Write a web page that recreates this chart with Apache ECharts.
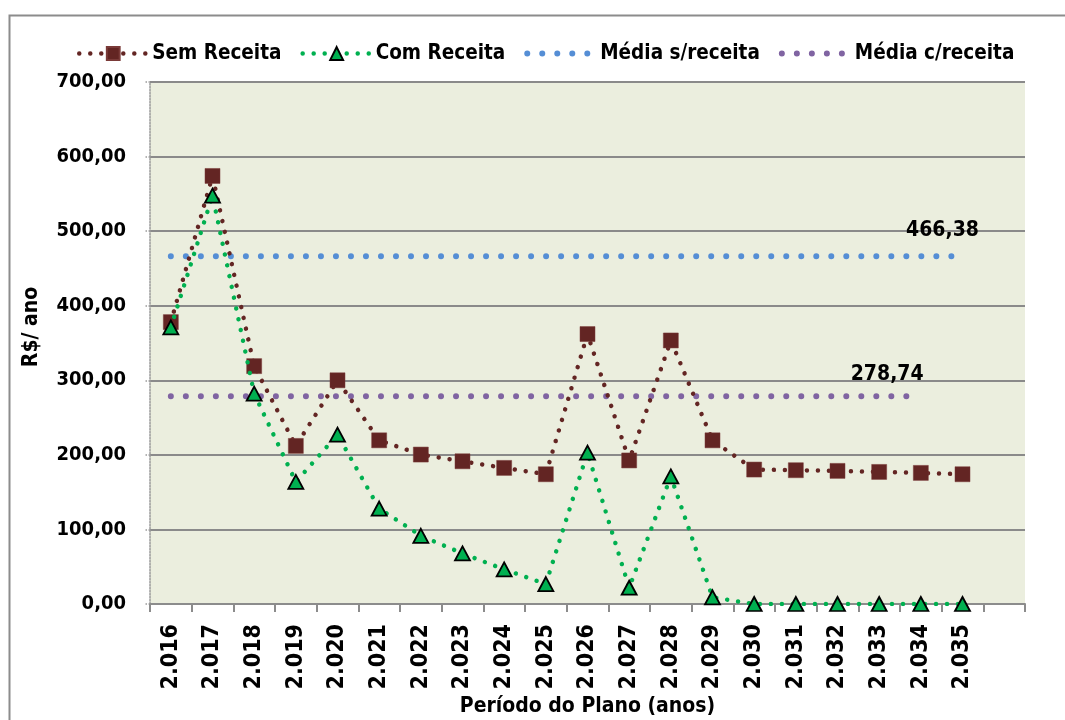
<!DOCTYPE html>
<html>
<head>
<meta charset="utf-8">
<script src="https://cdn.jsdelivr.net/npm/echarts@6/dist/echarts.min.js"></script>
<style>
  html, body { margin: 0; padding: 0; background: #fff; }
  #chart { width: 1065px; height: 720px; }
</style>
</head>
<body>
<div id="chart"></div>
<script>
// anos do plano (a última posição fica vazia, como no original)
const anos = ["2.016", "2.017", "2.018", "2.019", "2.020", "2.021", "2.022", "2.023", "2.024", "2.025",
  "2.026", "2.027", "2.028", "2.029", "2.030", "2.031", "2.032", "2.033", "2.034", "2.035", ""];

const semReceita = [378, 574, 319, 212, 300, 219.5, 200.4, 191.4, 182.5, 174,
  362, 192.5, 353.4, 219.5, 180.3, 179.4, 178.5, 177.1, 175.8, 174];
const comReceita = [371, 547.5, 282, 163.7, 227, 128, 91.5, 67.8, 46.4, 26.8,
  203, 21.8, 171, 9, 0, 0, 0, 0, 0, 0];

const mediaSemReceita = 466.38;
const mediaComReceita = 278.74;
const nSem = 20; // média s/receita vai de 2.016 a 2.035
const nCom = 19; // média c/receita vai de 2.016 a 2.034

const yTicks = [0, 100, 200, 300, 400, 500, 600, 700];

const FONT = "'DejaVu Sans Condensed', 'Liberation Sans Narrow', sans-serif";
const fmt = (v) => v.toFixed(2).replace(".", ",");

const dotLine = (color, width, gap) => ({
  color: color,
  width: width,
  type: [0.01, gap],
  cap: "round",
});

const mediaData = (valor, n, idxLabel, offset) =>
  anos.slice(0, n).map((_, i) =>
    i === idxLabel
      ? {
          value: valor,
          label: {
            show: true,
            position: "top",
            offset: offset,
            formatter: () => fmt(valor),
            fontFamily: FONT,
            fontWeight: "bold",
            fontSize: 21,
            color: "#000",
          },
        }
      : valor
  );

const chart = echarts.init(document.getElementById("chart"));

const option = {
  backgroundColor: "#fff",
  animation: false,
  graphic: [
    {
      type: "rect",
      left: 7,
      top: 13,
      shape: { width: 1200, height: 900 },
      style: { fill: "none", stroke: "#8c8c8c", lineWidth: 2 },
      z: -10,
      silent: true,
    },
  ],
  legend: {
    top: 38,
    left: 72,
    itemWidth: 68,
    itemHeight: 16,
    itemGap: 19,
    data: [
      { name: "Sem Receita", lineStyle: dotLine("#632523", 4.5, 11) },
      { name: "Com Receita", lineStyle: dotLine("#00B050", 4.5, 11) },
      { name: "Média s/receita", lineStyle: dotLine("#558ED5", 6, 15) },
      { name: "Média c/receita", lineStyle: dotLine("#8064A2", 6, 15) },
    ],
    textStyle: {
      fontFamily: FONT,
      fontWeight: "bold",
      fontSize: 20.5,
      color: "#000",
    },
  },
  grid: {
    left: 150,
    right: 40,
    top: 82,
    bottom: 116,
    outerBoundsMode: "none",
    show: true,
    backgroundColor: "#EBEEDE",
    borderWidth: 0,
  },
  xAxis: {
    type: "category",
    data: anos,
    boundaryGap: true,
    name: "Período do Plano (anos)",
    nameLocation: "middle",
    nameGap: 92,
    nameMoveOverlap: false,
    nameTextStyle: {
      fontFamily: FONT,
      fontWeight: "bold",
      fontSize: 21,
      color: "#000",
    },
    axisLine: { lineStyle: { color: "#8c8c8c", width: 2 } },
    axisTick: {
      show: true,
      interval: 0,
      length: 8,
      lineStyle: { color: "#8c8c8c", width: 2 },
    },
    axisLabel: {
      interval: 0,
      rotate: 90,
      margin: 20,
      fontFamily: FONT,
      fontWeight: "bold",
      fontSize: 23,
      color: "#000",
    },
    splitLine: { show: false },
  },
  yAxis: {
    type: "value",
    min: yTicks[0],
    max: yTicks[yTicks.length - 1],
    interval: 100,
    name: "R$/ ano",
    nameLocation: "middle",
    nameRotate: 90,
    nameGap: 108,
    nameMoveOverlap: false,
    nameTextStyle: {
      fontFamily: FONT,
      fontWeight: "bold",
      fontSize: 21,
      color: "#000",
      padding: [0, 0, 0, 32],
    },
    axisLine: {
      show: true,
      lineStyle: { color: "#9a9a9a", width: 1.5, type: [1.5, 1.5] },
    },
    axisTick: {
      show: true,
      length: 6,
      lineStyle: { color: "#9a9a9a", width: 1.5, type: [1.5, 1.5] },
    },
    axisLabel: {
      margin: 24,
      formatter: (v) => fmt(v),
      fontFamily: FONT,
      fontWeight: "bold",
      fontSize: 20,
      color: "#000",
    },
    splitLine: { lineStyle: { color: "#8a8a8a", width: 2 } },
  },
  series: [
    {
      name: "Média s/receita",
      type: "line",
      data: mediaData(mediaSemReceita, nSem, nSem - 1, [-20, -10]),
      symbol: "circle",
      symbolSize: 1,
      showAllSymbol: true,
      lineStyle: dotLine("#558ED5", 6, 15),
      itemStyle: { color: "rgba(0,0,0,0)", borderWidth: 0 },
      z: 2,
    },
    {
      name: "Média c/receita",
      type: "line",
      data: mediaData(mediaComReceita, nCom, nCom - 2, [8, -6]),
      symbol: "circle",
      symbolSize: 1,
      showAllSymbol: true,
      lineStyle: dotLine("#8064A2", 6, 15),
      itemStyle: { color: "rgba(0,0,0,0)", borderWidth: 0 },
      z: 2,
    },
    {
      name: "Sem Receita",
      type: "line",
      data: semReceita,
      symbol: "rect",
      symbolSize: 15,
      showAllSymbol: true,
      lineStyle: dotLine("#632523", 4.5, 11),
      itemStyle: { color: "#632523", borderColor: "#7a3a38", borderWidth: 0.5 },
      z: 3,
    },
    {
      name: "Com Receita",
      type: "line",
      data: comReceita,
      symbol: "triangle",
      symbolSize: [15, 14],
      showAllSymbol: true,
      lineStyle: dotLine("#00B050", 4.5, 11),
      itemStyle: { color: "#00B050", borderColor: "#000", borderWidth: 1.8 },
      z: 4,
    },
  ],
};

chart.setOption(option);
</script>
</body>
</html>
